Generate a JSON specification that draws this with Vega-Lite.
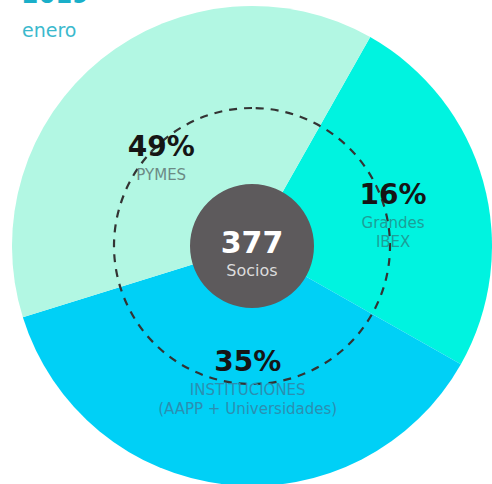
{
  "$schema": "https://vega.github.io/schema/vega-lite/v6.json",
  "width": 480,
  "height": 478,
  "autosize": {"type": "none"},
  "padding": {"left": 12, "top": 7, "right": 0, "bottom": 0},
  "background": "white",
  "config": {"view": {"stroke": null}},
  "title": {
    "text": "2019",
    "subtitle": "enero",
    "anchor": "start",
    "frame": "group",
    "orient": "top",
    "offset": -37,
    "dx": 10,
    "dy": -2,
    "font": "DejaVu Sans",
    "fontSize": 24,
    "fontWeight": "bold",
    "color": "#1aafc9",
    "subtitleFont": "DejaVu Sans",
    "subtitleFontSize": 19,
    "subtitleColor": "#3bb9cd",
    "subtitlePadding": 14
  },
  "datasets": {
    "segments": [
      {"segment": "Grandes IBEX", "pct": 0.16, "line1": "Grandes", "line2": "IBEX", "drawn_share": 25},
      {"segment": "Instituciones", "pct": 0.35, "line1": "INSTITUCIONES", "line2": "(AAPP + Universidades)", "drawn_share": 37},
      {"segment": "PYMES", "pct": 0.49, "line1": "PYMES", "line2": "", "drawn_share": 38}
    ],
    "center": [{"total": 377, "unit": "Socios"}]
  },
  "layer": [
    {
      "data": {"name": "segments"},
      "mark": {"type": "arc", "outerRadius": 240},
      "encoding": {
        "theta": {"field": "drawn_share", "type": "quantitative", "stack": true, "scale": {"domain": [0, 100], "range": [0.5149, 6.7981]}},
        "color": {"field": "segment", "type": "nominal", "legend": null,
          "scale": {"domain": ["Grandes IBEX", "Instituciones", "PYMES"], "range": ["#00f3e0", "#00d0f6", "#b2f7e3"]}},
        "order": {"field": "segment", "type": "ordinal", "sort": "ascending"}
      }
    },
    {
      "data": {"name": "center"},
      "mark": {"type": "arc", "theta": 6.2832, "radius": 138, "fillOpacity": 0, "stroke": "#333333", "strokeWidth": 2.2, "strokeDash": [8, 7]},
      "encoding": {}
    },
    {
      "data": {"name": "center"},
      "mark": {"type": "arc", "theta": 6.2832, "radius": 62, "fill": "#5d5a5c"},
      "encoding": {}
    },
    {
      "data": {"name": "center"},
      "mark": {"type": "text", "font": "DejaVu Sans", "fontSize": 30, "fontWeight": "bold", "fill": "#ffffff", "baseline": "middle", "align": "center", "dy": -2},
      "encoding": {"text": {"field": "total", "type": "quantitative"}}
    },
    {
      "data": {"name": "center"},
      "mark": {"type": "text", "font": "DejaVu Sans", "fontSize": 16, "fill": "#dcdcdc", "baseline": "middle", "align": "center", "dy": 25},
      "encoding": {"text": {"field": "unit", "type": "nominal"}}
    },
    {
      "data": {"name": "segments"},
      "transform": [
        {"stack": "drawn_share", "groupby": [], "sort": [{"field": "segment", "order": "ascending"}], "as": ["s0", "s1"]},
        {"calculate": "(datum.s0 + datum.s1) / 2", "as": "mid"}
      ],
      "layer": [
        {
          "mark": {"type": "text", "font": "DejaVu Sans", "fontSize": 28, "fontWeight": "bold", "fill": "#151515", "baseline": "middle", "align": "center"},
          "encoding": {
            "theta": {"field": "mid", "type": "quantitative", "stack": null, "scale": {"domain": [0, 100], "range": [0.4451, 6.7283]}},
            "radius": {"field": "segment", "type": "nominal", "scale": {"type": "point", "domain": ["Instituciones", "PYMES", "Grandes IBEX"], "range": [117, 149.7], "padding": 0}},
            "text": {"field": "pct", "type": "quantitative", "format": ".0%"}
          }
        },
        {
          "mark": {"type": "text", "font": "DejaVu Sans", "fontSize": 15, "baseline": "middle", "align": "center", "dy": 27},
          "encoding": {
            "theta": {"field": "mid", "type": "quantitative", "stack": null, "scale": {"domain": [0, 100], "range": [0.4451, 6.7283]}},
            "radius": {"field": "segment", "type": "nominal", "scale": {"type": "point", "domain": ["Instituciones", "PYMES", "Grandes IBEX"], "range": [117, 149.7], "padding": 0}},
            "color": {"field": "segment", "type": "nominal", "legend": null,
              "scale": {"domain": ["Grandes IBEX", "Instituciones", "PYMES"], "range": ["#1c9f98", "#2a8fb2", "#6c8a85"]}},
            "text": {"field": "line1", "type": "nominal"}
          }
        },
        {
          "mark": {"type": "text", "font": "DejaVu Sans", "fontSize": 15, "baseline": "middle", "align": "center", "dy": 46},
          "encoding": {
            "theta": {"field": "mid", "type": "quantitative", "stack": null, "scale": {"domain": [0, 100], "range": [0.4451, 6.7283]}},
            "radius": {"field": "segment", "type": "nominal", "scale": {"type": "point", "domain": ["Instituciones", "PYMES", "Grandes IBEX"], "range": [117, 149.7], "padding": 0}},
            "color": {"field": "segment", "type": "nominal", "legend": null,
              "scale": {"domain": ["Grandes IBEX", "Instituciones", "PYMES"], "range": ["#1c9f98", "#2a8fb2", "#6c8a85"]}},
            "text": {"field": "line2", "type": "nominal"}
          }
        }
      ],
      "resolve": {"scale": {"color": "shared", "theta": "shared"}}
    }
  ],
  "resolve": {"scale": {"color": "independent", "theta": "independent"}}
}
